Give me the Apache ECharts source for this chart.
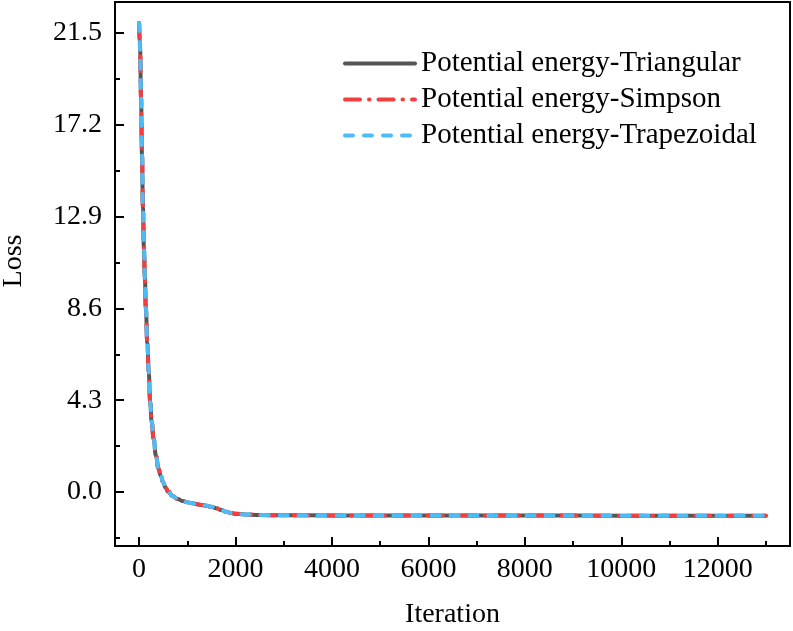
<!DOCTYPE html>
<html>
<head>
<meta charset="utf-8">
<script src="https://cdn.jsdelivr.net/npm/echarts@6/dist/echarts.min.js"></script>
<style>
  html, body { margin: 0; padding: 0; background: #fff; }
  #chart { width: 793px; height: 631px; }
</style>
</head>
<body>
<div id="chart"></div>
<script>
// values
const iterations = [0, 20, 40, 60, 80, 100, 120, 140, 170, 200, 230, 260, 300, 350, 400, 450, 500, 550, 600, 700, 800, 900, 1000, 1100, 1200, 1300, 1400, 1500, 1600, 1700, 1800, 1900, 2000, 2200, 2500, 3000, 4000, 6000, 8000, 10000, 12000, 13000]
const lossTriangular = [21.97, 20.8, 18.5, 15.8, 13.3, 11.4, 10.0, 8.6, 7.0, 5.6, 4.2, 3.3, 2.5, 1.7, 1.1, 0.75, 0.45, 0.2, 0.02, -0.2, -0.33, -0.42, -0.48, -0.53, -0.57, -0.61, -0.65, -0.69, -0.76, -0.84, -0.92, -0.98, -1.02, -1.05, -1.08, -1.09, -1.1, -1.1, -1.1, -1.11, -1.11, -1.11]
const lossSimpson = [21.97, 20.8, 18.5, 15.8, 13.3, 11.4, 10.0, 8.6, 7.0, 5.6, 4.2, 3.3, 2.5, 1.7, 1.1, 0.75, 0.45, 0.2, 0.02, -0.2, -0.33, -0.42, -0.48, -0.53, -0.57, -0.61, -0.65, -0.69, -0.76, -0.84, -0.92, -0.98, -1.02, -1.05, -1.08, -1.09, -1.1, -1.1, -1.1, -1.11, -1.11, -1.11]
const lossTrapezoidal = [21.97, 20.8, 18.5, 15.8, 13.3, 11.4, 10.0, 8.6, 7.0, 5.6, 4.2, 3.3, 2.5, 1.7, 1.1, 0.75, 0.45, 0.2, 0.02, -0.2, -0.33, -0.42, -0.48, -0.53, -0.57, -0.61, -0.65, -0.69, -0.76, -0.84, -0.92, -0.98, -1.02, -1.05, -1.08, -1.09, -1.1, -1.1, -1.1, -1.11, -1.11, -1.11]

const seriesNames = ['Potential energy-Triangular', 'Potential energy-Simpson', 'Potential energy-Trapezoidal']
const xMajorTicks = [0, 2000, 4000, 6000, 8000, 10000, 12000]
const xMinorTicks = [1000, 3000, 5000, 7000, 9000, 11000, 13000]
const yMajorTicks = [0, 4.3, 8.6, 12.9, 17.2, 21.5]
const yMinorTicks = [-2.15, 2.15, 6.45, 10.75, 15.05, 19.35]

const FONT = 'Liberation Serif'

const toPairs = values => iterations.map((x, i) => [x, values[i]])

const chart = echarts.init(document.getElementById('chart'))

const xRange = { min: -500, max: 13500 }
const yRange = { min: -2.53, max: 22.95 }

const tickStyle = { color: '#000', width: 2 }
const labelStyle = { fontFamily: FONT, fontSize: 28, color: '#000' }

const option = {
  animation: false,
  backgroundColor: '#fff',
  textStyle: { fontFamily: FONT },
  grid: {
    left: 115, right: 3, top: 2, bottom: 85,
    outerBoundsMode: 'none',
    containLabel: false,
    show: true, borderColor: '#000', borderWidth: 2, backgroundColor: 'transparent'
  },
  legend: {
    orient: 'vertical',
    left: 343,
    top: 49,
    padding: 0,
    itemWidth: 70,
    itemHeight: 14,
    itemGap: 7,
    itemStyle: { opacity: 0 },
    lineStyle: { width: 4, cap: 'round' },
    textStyle: { ...labelStyle, fontSize: 29, padding: [0, 0, 0, 1] },
    data: seriesNames
  },
  xAxis: [
    {
      type: 'value', ...xRange,
      name: 'Iteration', nameLocation: 'middle', nameGap: 55,
      nameTextStyle: labelStyle,
      axisLine: { show: true, onZero: false, lineStyle: tickStyle },
      axisTick: { show: true, inside: true, length: 9, customValues: xMajorTicks, lineStyle: tickStyle },
      axisLabel: { ...labelStyle, customValues: xMajorTicks, margin: 10, formatter: v => String(v) },
      splitLine: { show: false }
    },
    {
      type: 'value', ...xRange, position: 'bottom',
      axisLine: { show: false, onZero: false },
      axisTick: { show: true, inside: true, length: 5, customValues: xMinorTicks, lineStyle: tickStyle },
      axisLabel: { show: false, customValues: xMinorTicks },
      splitLine: { show: false }
    }
  ],
  yAxis: [
    {
      type: 'value', ...yRange,
      name: 'Loss', nameLocation: 'middle', nameGap: 87,
      nameTextStyle: { ...labelStyle, padding: [0, 0, 0, 26] },
      axisLine: { show: true, onZero: false, lineStyle: tickStyle },
      axisTick: { show: true, inside: true, length: 9, customValues: yMajorTicks, lineStyle: tickStyle },
      axisLabel: { ...labelStyle, customValues: yMajorTicks, margin: 13, formatter: v => v.toFixed(1) },
      splitLine: { show: false }
    },
    {
      type: 'value', ...yRange, position: 'left',
      axisLine: { show: false, onZero: false },
      axisTick: { show: true, inside: true, length: 5, customValues: yMinorTicks, lineStyle: tickStyle },
      axisLabel: { show: false, customValues: yMinorTicks },
      splitLine: { show: false }
    }
  ],
  series: [
    {
      name: seriesNames[0], type: 'line', data: toPairs(lossTriangular),
      smooth: true, smoothMonotone: 'x', showSymbol: false, symbol: 'none',
      lineStyle: { color: '#555555', width: 4, type: 'solid', cap: 'round' },
      itemStyle: { color: '#555555' }
    },
    {
      name: seriesNames[1], type: 'line', data: toPairs(lossSimpson),
      smooth: true, smoothMonotone: 'x', showSymbol: false, symbol: 'none',
      lineStyle: { color: '#F23E3E', width: 4, type: [15, 9, 0.5, 9], cap: 'round' },
      itemStyle: { color: '#F23E3E' }
    },
    {
      name: seriesNames[2], type: 'line', data: toPairs(lossTrapezoidal),
      smooth: true, smoothMonotone: 'x', showSymbol: false, symbol: 'none',
      lineStyle: { color: '#4DBBF6', width: 4, type: [8, 11], cap: 'round' },
      itemStyle: { color: '#4DBBF6' }
    }
  ]
}

chart.setOption(option)
</script>
</body>
</html>
